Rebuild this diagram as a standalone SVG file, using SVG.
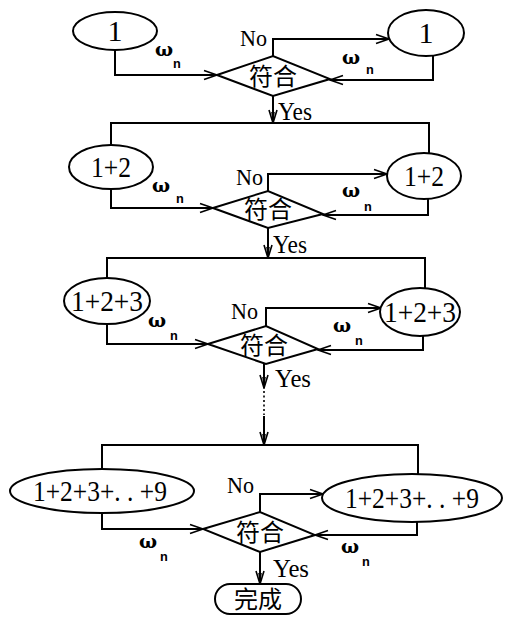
<svg xmlns="http://www.w3.org/2000/svg" width="506" height="620" viewBox="0 0 506 620">
<defs>
<marker id="arr" viewBox="-14 -6 15 12" refX="0" refY="0" markerWidth="15" markerHeight="12" markerUnits="userSpaceOnUse" orient="auto">
<path d="M-13,-4.5 L0,0 L-13,4.5" fill="none" stroke="#000" stroke-width="1.6"/>
</marker>
<marker id="down" viewBox="-14 -6 15 12" refX="0" refY="0" markerWidth="15" markerHeight="12" markerUnits="userSpaceOnUse" orient="auto">
<path d="M-13,-4 L0,0 L-13,4" fill="none" stroke="#000" stroke-width="1.6"/>
<path d="M-11,-1.8 L0,0 L-11,1.8 Z" fill="#000"/>
</marker>
</defs>
<style>
.ln{fill:none;stroke:#000;stroke-width:2}
.ar{marker-end:url(#arr)}
.dn{marker-end:url(#down)}
.sh{fill:#fff;stroke:#000;stroke-width:2}
.lbl{font-family:"Liberation Serif","Times New Roman",serif;fill:#000}
.big{font-size:30px}
.no{font-size:24px}
.yes{font-size:25px}
.cjk{font-family:"Noto Sans CJK SC","Noto Sans CJK TC",sans-serif;font-size:24px;fill:#000}
.om{font-family:"DejaVu Serif",serif;font-size:19px;font-weight:bold;fill:#000}
.sub{font-family:"Liberation Mono",monospace;font-size:13px;font-weight:bold;fill:#000}
</style>

<g id="connectors">
<path class="ln ar" d="M115,50 V75 H217"/>
<path class="ln ar" d="M273,56 V39 H389"/>
<path class="ln ar" d="M433,55 V80 H330"/>
<path class="ln dn" d="M273,96 V123"/>
<path class="ln" d="M111,145 V123 H429 V153"/>
<path class="ln ar" d="M111,189 V208 H213"/>
<path class="ln ar" d="M268,191 V174 H387"/>
<path class="ln ar" d="M428,199 V215 H323"/>
<path class="ln dn" d="M268,228 V258"/>
<path class="ln" d="M107,278 V258 H425 V288"/>
<path class="ln ar" d="M107,324 V344 H208"/>
<path class="ln ar" d="M266,326 V308 H381"/>
<path class="ln ar" d="M423,336 V350 H318"/>
<path class="ln dn" d="M264,364 V388"/>
<path d="M264,391 V415" fill="none" stroke="#000" stroke-width="1.6" stroke-dasharray="2,2.5"/>
<path class="ln dn" d="M264,416 V445"/>
<path class="ln" d="M102,469 V445 H418 V475"/>
<path class="ln ar" d="M102,513 V529 H203"/>
<path class="ln ar" d="M260,512 V494 H323"/>
<path class="ln ar" d="M417,521 V535 H315"/>
<path class="ln dn" d="M260,552 V584"/>
</g>

<g id="n1-left"><ellipse class="sh" cx="115" cy="31" rx="42" ry="19"/><text class="lbl big" x="115" y="41" text-anchor="middle">1</text></g>
<g id="d1"><polygon class="sh" points="217,75 273,56 330,79 273,96"/><text class="cjk" x="273" y="85" text-anchor="middle">符合</text></g>
<g id="n1-right"><ellipse class="sh" cx="426" cy="33" rx="38" ry="23"/><text class="lbl big" x="426" y="43" text-anchor="middle">1</text></g>

<g id="n2-left"><ellipse class="sh" cx="111" cy="167" rx="42" ry="22"/><text class="lbl big" x="111" y="177" text-anchor="middle" textLength="40" lengthAdjust="spacingAndGlyphs">1+2</text></g>
<g id="d2"><polygon class="sh" points="213,208 268,191 323,214 268,228"/><text class="cjk" x="268" y="218" text-anchor="middle">符合</text></g>
<g id="n2-right"><ellipse class="sh" cx="424" cy="176" rx="37" ry="23"/><text class="lbl big" x="424" y="186" text-anchor="middle" textLength="40" lengthAdjust="spacingAndGlyphs">1+2</text></g>

<g id="n3-left"><ellipse class="sh" cx="107" cy="301" rx="43" ry="23"/><text class="lbl big" x="107" y="311" text-anchor="middle" textLength="72" lengthAdjust="spacingAndGlyphs">1+2+3</text></g>
<g id="d3"><polygon class="sh" points="208,344 266,326 318,349 266,364"/><text class="cjk" x="264" y="354" text-anchor="middle">符合</text></g>
<g id="n3-right"><ellipse class="sh" cx="420" cy="312" rx="40" ry="24"/><text class="lbl big" x="420" y="322" text-anchor="middle" textLength="72" lengthAdjust="spacingAndGlyphs">1+2+3</text></g>

<g id="n4-left"><ellipse class="sh" cx="102" cy="491" rx="92" ry="22"/><text class="lbl big" x="100" y="501" text-anchor="middle" textLength="134" lengthAdjust="spacingAndGlyphs">1+2+3+. . +9</text></g>
<g id="d4"><polygon class="sh" points="203,529 260,512 315,535 260,552"/><text class="cjk" x="260" y="541" text-anchor="middle">符合</text></g>
<g id="n4-right"><ellipse class="sh" cx="412" cy="498" rx="90" ry="24"/><text class="lbl big" x="412" y="508" text-anchor="middle" textLength="134" lengthAdjust="spacingAndGlyphs">1+2+3+. . +9</text></g>

<g id="done"><rect class="sh" x="215" y="584" width="86" height="30" rx="15"/><text class="cjk" x="258" y="608" text-anchor="middle">完成</text></g>

<g id="labels">
<text class="lbl no" x="240" y="46" textLength="27" lengthAdjust="spacingAndGlyphs">No</text>
<text class="lbl no" x="236" y="185" textLength="27" lengthAdjust="spacingAndGlyphs">No</text>
<text class="lbl no" x="231" y="319" textLength="27" lengthAdjust="spacingAndGlyphs">No</text>
<text class="lbl no" x="227" y="493" textLength="27" lengthAdjust="spacingAndGlyphs">No</text>
<text class="lbl yes" x="278" y="120" textLength="34" lengthAdjust="spacingAndGlyphs">Yes</text>
<text class="lbl yes" x="273" y="253" textLength="34" lengthAdjust="spacingAndGlyphs">Yes</text>
<text class="lbl yes" x="275" y="387" textLength="36" lengthAdjust="spacingAndGlyphs">Yes</text>
<text class="lbl yes" x="273" y="577" textLength="36" lengthAdjust="spacingAndGlyphs">Yes</text>
<text class="om" x="155" y="56">ω</text><text class="sub" x="173" y="68">n</text>
<text class="om" x="342" y="64">ω</text><text class="sub" x="366" y="74">n</text>
<text class="om" x="152" y="192">ω</text><text class="sub" x="176" y="203">n</text>
<text class="om" x="342" y="197">ω</text><text class="sub" x="364" y="211">n</text>
<text class="om" x="148" y="327">ω</text><text class="sub" x="170" y="340">n</text>
<text class="om" x="333" y="332">ω</text><text class="sub" x="355" y="345">n</text>
<text class="om" x="139" y="548">ω</text><text class="sub" x="160" y="561">n</text>
<text class="om" x="341" y="553">ω</text><text class="sub" x="362" y="566">n</text>
</g>
</svg>
